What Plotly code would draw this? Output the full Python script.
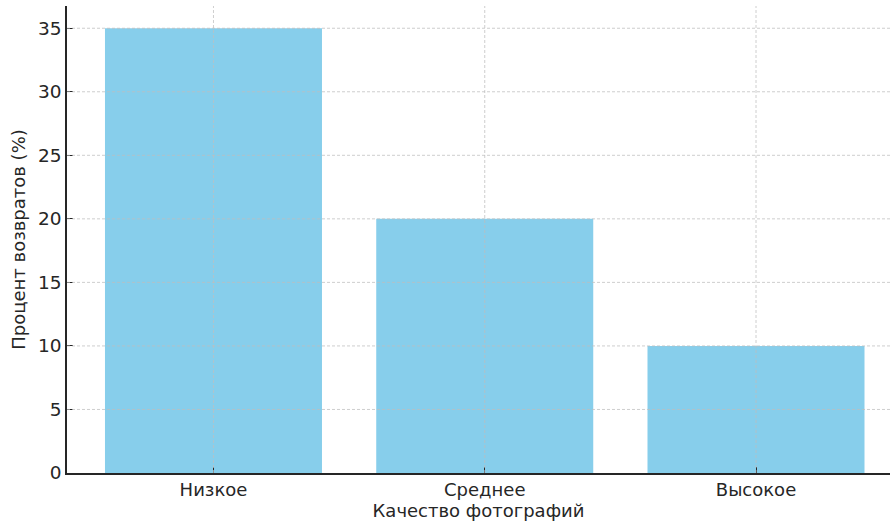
import plotly.graph_objects as go

categories = ["Низкое", "Среднее", "Высокое"]
return_pct = [35, 20, 10]
y_ticks = [0, 5, 10, 15, 20, 25, 30, 35]

FONT = "DejaVu Sans"
TEXT = "#262626"
GRID = "rgba(190,190,190,0.75)"

fig = go.Figure()
fig.add_trace(go.Bar(
    x=list(range(len(categories))),
    y=return_pct,
    width=0.8,
    marker=dict(color="#87CEEB", line=dict(width=0)),
    hoverinfo="x+y",
))

shapes = []
for i in range(len(categories)):
    shapes.append(dict(type="line", xref="x", yref="paper", x0=i, x1=i, y0=0, y1=1,
                       line=dict(color=GRID, width=1, dash="3px,2px"), layer="above"))
for v in y_ticks[1:]:
    shapes.append(dict(type="line", xref="paper", yref="y", x0=0, x1=1, y0=v, y1=v,
                       line=dict(color=GRID, width=1, dash="3px,2px"), layer="above"))

fig.update_layout(
    width=890, height=522,
    margin=dict(l=67, r=0, t=6, b=49),
    paper_bgcolor="white", plot_bgcolor="white",
    font=dict(family=FONT, size=18, color=TEXT),
    showlegend=False,
    shapes=shapes,
    xaxis=dict(
        range=[-0.54, 2.494],
        tickmode="array",
        tickvals=list(range(len(categories))),
        ticktext=categories,
        showgrid=False, zeroline=False,
        showline=True, linecolor=TEXT, linewidth=1.5,
        ticks="inside", ticklen=6, tickwidth=1.2, tickcolor=TEXT,
        tickfont=dict(family=FONT, size=18, color=TEXT),
        title=dict(text="Качество фотографий", font=dict(family=FONT, size=18, color=TEXT), standoff=4),
        layer="above traces",
    ),
    yaxis=dict(
        range=[0, 36.75],
        tickmode="array",
        tickvals=y_ticks,
        showgrid=False, zeroline=False,
        showline=True, linecolor=TEXT, linewidth=1.5,
        ticks="inside", ticklen=6, tickwidth=1.2, tickcolor=TEXT,
        tickfont=dict(family=FONT, size=18.5, color=TEXT),
        title=dict(text="Процент возвратов (%)", font=dict(family=FONT, size=18, color=TEXT), standoff=8),
        layer="above traces",
    ),
)

fig.write_html(
    "out.html",
    config={"displayModeBar": False},
    post_script="document.body.style.margin='0';document.body.style.overflow='hidden';",
)
